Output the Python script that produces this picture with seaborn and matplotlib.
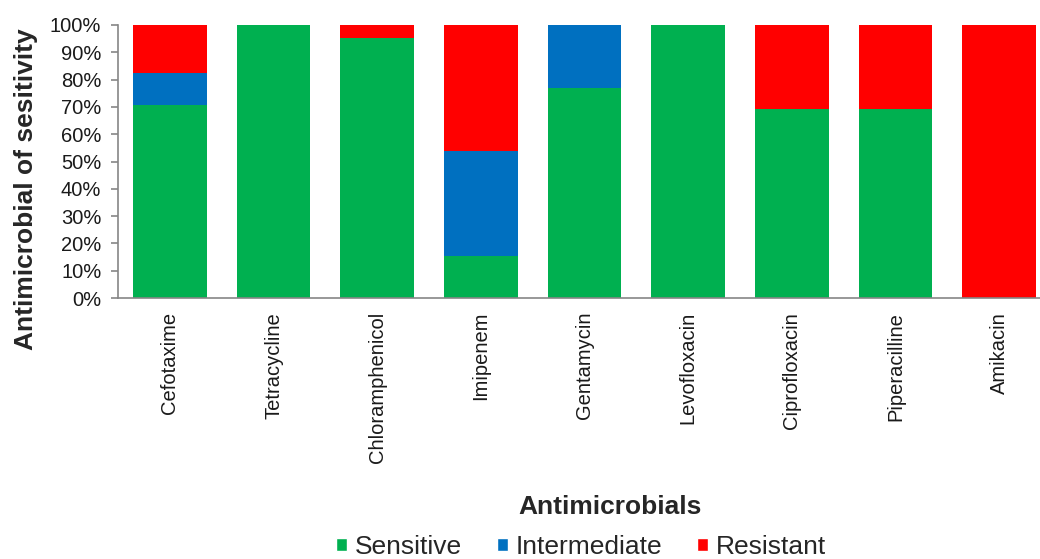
import matplotlib
matplotlib.use('Agg')
from matplotlib import pyplot as plt
from matplotlib.patches import Patch
from matplotlib.ticker import PercentFormatter
import seaborn as sns
import pandas as pd
import numpy as np

drugs = ['Cefotaxime', 'Tetracycline', 'Chloramphenicol', 'Imipenem', 'Gentamycin',
         'Levofloxacin', 'Ciprofloxacin', 'Piperacilline', 'Amikacin']
sensitive = [70.6, 100, 95.2, 15.4, 76.9, 100, 69.2, 69.2, 0]
intermediate = [11.8, 0, 0, 38.5, 23.1, 0, 0, 0, 0]
resistant = [17.6, 0, 4.8, 46.1, 0, 0, 30.8, 30.8, 100]

colors = {'Sensitive': '#00B050', 'Intermediate': '#0070C0', 'Resistant': '#FF0000'}

df = pd.DataFrame({'drug': drugs, 'S': sensitive, 'I': intermediate, 'R': resistant})
# stack by drawing cumulative heights back to front
df['SI'] = df.S + df.I
df['SIR'] = df.SI + df.R

sns.set_style('white')
plt.rcParams['font.family'] = ['Liberation Sans', 'DejaVu Sans']

fig = plt.figure(figsize=(10.4, 5.59), dpi=100)
ax = fig.add_axes([118 / 1040, 1 - 298 / 559, 933 / 1040, 273 / 559])

sns.barplot(data=df, x='drug', y='SIR', color=colors['Resistant'], width=0.71,
            saturation=1, ax=ax, edgecolor='none')
sns.barplot(data=df, x='drug', y='SI', color=colors['Intermediate'], width=0.71,
            saturation=1, ax=ax, edgecolor='none')
sns.barplot(data=df, x='drug', y='S', color=colors['Sensitive'], width=0.71,
            saturation=1, ax=ax, edgecolor='none')

ax.set_ylim(0, 100)
ax.set_xlim(-0.5, 8.5)
ax.set_yticks(np.arange(0, 101, 10))
ax.yaxis.set_major_formatter(PercentFormatter(decimals=0))

for side in ['top', 'right']:
    ax.spines[side].set_visible(False)
for side in ['left', 'bottom']:
    ax.spines[side].set_color('#868686')
    ax.spines[side].set_linewidth(1.2)

ax.set_xticks(np.arange(-0.5, 9, 1), minor=True)
ax.tick_params(axis='x', which='major', length=0, pad=10, labelsize=14.5,
               labelrotation=90, labelcolor='#1a1a1a')
ax.tick_params(axis='x', which='minor', length=5, width=1.2, color='#868686', direction='out')
ax.tick_params(axis='y', length=5, width=1.2, color='#868686', direction='out', pad=7,
               labelsize=14.5, labelcolor='#1a1a1a', left=True)

ax.set_xlabel('Antimicrobials', fontsize=19, fontweight='bold')
ax.xaxis.set_label_coords(0.527, -0.72)
ax.set_ylabel('Antimicrobial of sesitivity', fontsize=19, fontweight='bold')
ax.yaxis.set_label_coords(-0.086, 0.40)

handles = [Patch(facecolor=c, label=k) for k, c in colors.items()]
fig.legend(handles=handles, loc='center', bbox_to_anchor=(581 / 1040, 1 - 547 / 559),
           ncol=3, frameon=False, fontsize=19, handlelength=0.42, handleheight=0.42,
           handletextpad=0.3, columnspacing=1.3, borderpad=0)

plt.savefig('out.png', dpi=100)
